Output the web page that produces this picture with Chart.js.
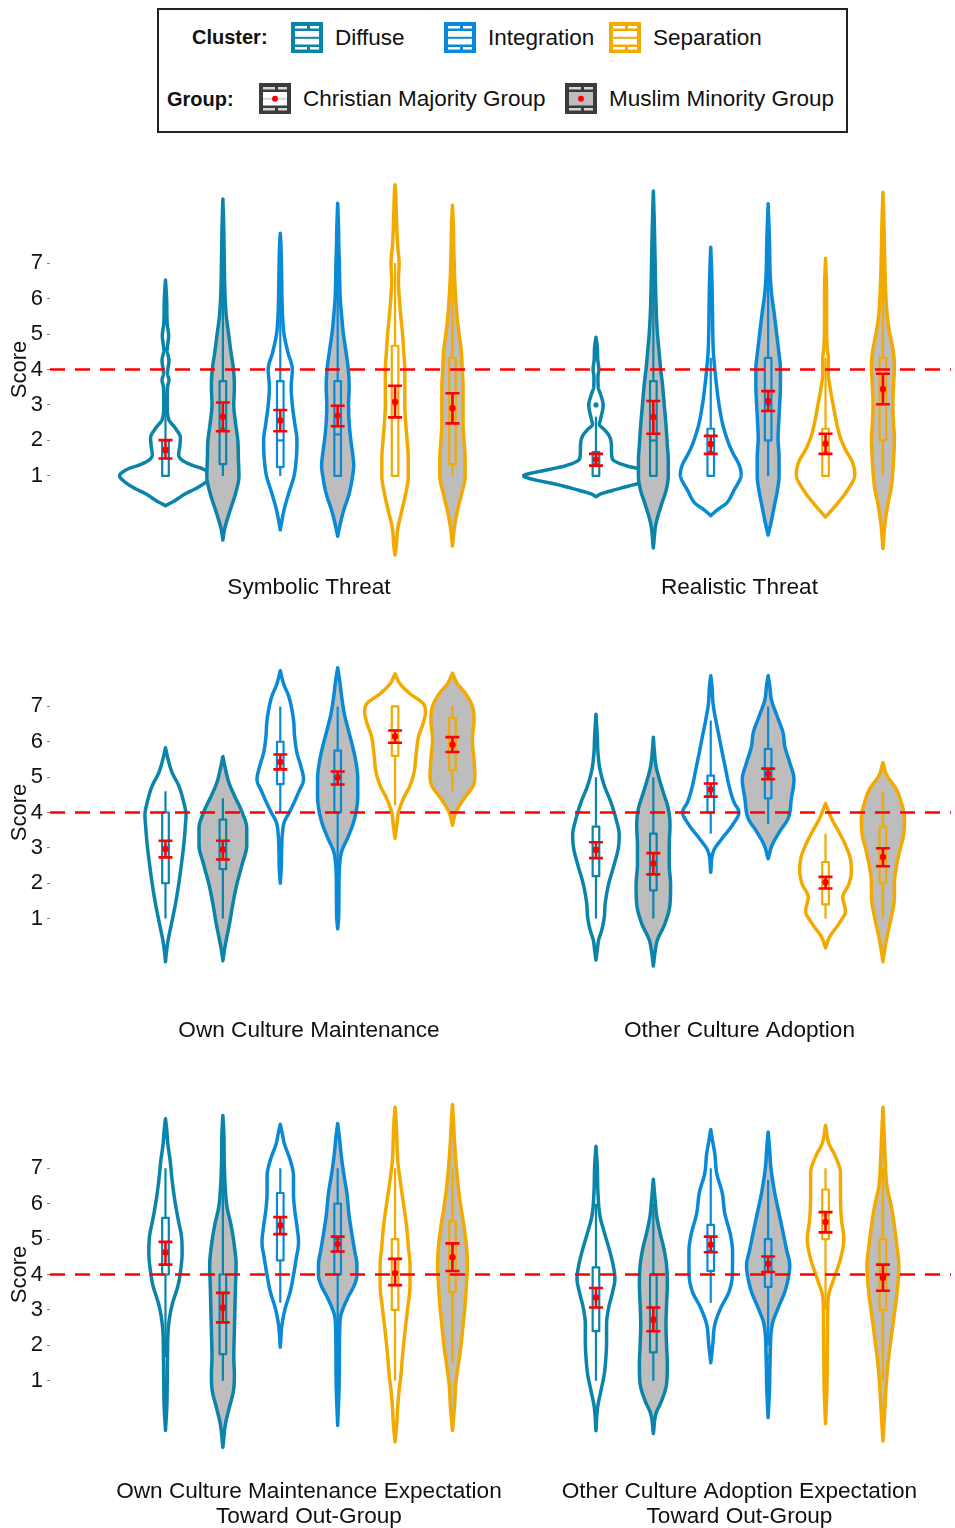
<!DOCTYPE html>
<html><head><meta charset="utf-8">
<script src="https://cdn.jsdelivr.net/npm/chart.js@4.4.1/dist/chart.umd.min.js"></script>
<style>
html,body{margin:0;padding:0;background:#fff;}
body{width:955px;height:1528px;position:relative;overflow:hidden;font-family:"Liberation Sans",Arial,sans-serif;color:#111;}
#legendBox{position:absolute;left:157px;top:8px;width:687px;height:121px;border:2px solid #222;}
.lt{position:absolute;font-size:22.5px;line-height:30px;white-space:nowrap;}
.lb{position:absolute;font-size:20px;font-weight:bold;line-height:30px;white-space:nowrap;}
.ic{position:absolute;}
canvas.row{position:absolute;left:0;}
</style></head>
<body>
<div id="legendBox"></div>
<div class="lb" style="left:192px;top:22px">Cluster:</div>
<canvas class="ic" id="icD" width="32" height="31" style="left:291px;top:22px"></canvas>
<div class="lt" style="left:335px;top:23px" id="ltD"></div>
<canvas class="ic" id="icI" width="32" height="31" style="left:444px;top:22px"></canvas>
<div class="lt" style="left:488px;top:23px" id="ltI"></div>
<canvas class="ic" id="icS" width="32" height="31" style="left:609px;top:22px"></canvas>
<div class="lt" style="left:653px;top:23px" id="ltS"></div>
<div class="lb" style="left:167px;top:84px">Group:</div>
<canvas class="ic" id="icC" width="32" height="31" style="left:259px;top:83px"></canvas>
<div class="lt" style="left:303px;top:84px" id="ltC"></div>
<canvas class="ic" id="icM" width="32" height="31" style="left:565px;top:83px"></canvas>
<div class="lt" style="left:609px;top:84px" id="ltM"></div>

<canvas class="row" id="row1" width="955" height="435" style="top:170px"></canvas>
<canvas class="row" id="row2" width="955" height="401" style="top:655px"></canvas>
<canvas class="row" id="row3" width="955" height="433" style="top:1095px"></canvas>

<script>
// ---------------- DATA ----------------
const clusterNames = ['Diffuse', 'Integration', 'Separation'];
const groupNames = ['Christian Majority Group', 'Muslim Minority Group'];
const scoreTicks = [1, 2, 3, 4, 5, 6, 7];
const midpointScore = 4;
const panelLabels = [
  ['Symbolic Threat', 'Realistic Threat'],
  ['Own Culture Maintenance', 'Other Culture Adoption'],
  [['Own Culture Maintenance Expectation', 'Toward Out-Group'], ['Other Culture Adoption Expectation', 'Toward Out-Group']]
];
// violin order in each panel: Diffuse-Christian, Diffuse-Muslim, Integration-Christian, Integration-Muslim, Separation-Christian, Separation-Muslim
// density profiles: [score, half-width (density, in category units)]
const symbolicDensity = [
  [[0.16,0],[0.3,0.16],[0.5,0.35],[0.67,0.56],[0.86,0.73],[1.0,0.8],[1.19,0.66],[1.33,0.42],[1.47,0.27],[1.6,0.23],[1.85,0.25],[2.07,0.26],[2.35,0.17],[2.58,0.06],[3.0,0.03],[3.5,0.035],[3.7,0.06],[3.9,0.035],[4.25,0.06],[4.55,0.03],[4.95,0.055],[5.3,0.03],[6.0,0.02],[6.52,0]],
  [[-0.81,0],[-0.5,0.03],[0,0.12],[0.5,0.22],[1,0.28],[1.5,0.27],[2,0.26],[2.5,0.22],[3,0.19],[3.5,0.2],[4,0.185],[4.5,0.14],[5,0.1],[5.5,0.06],[6,0.04],[6.5,0.03],[7,0.025],[7.5,0.02],[8,0.015],[8.81,0]],
  [[-0.52,0],[0,0.06],[0.5,0.145],[1,0.24],[1.5,0.28],[2,0.29],[2.5,0.25],[3,0.21],[3.5,0.19],[4,0.21],[4.5,0.13],[5,0.065],[5.5,0.04],[6,0.03],[6.5,0.025],[7,0.02],[7.5,0.012],[7.84,0]],
  [[-0.7,0],[-0.5,0.025],[0,0.1],[0.5,0.2],[1,0.26],[1.3,0.28],[1.5,0.27],[2,0.23],[2.5,0.2],[3,0.19],[3.5,0.2],[4,0.185],[4.5,0.145],[5,0.1],[5.5,0.07],[6,0.045],[6.5,0.035],[7,0.03],[7.5,0.02],[8,0.015],[8.69,0]],
  [[-1.23,0],[-1,0.02],[-0.5,0.045],[0,0.115],[0.5,0.185],[1,0.23],[1.5,0.23],[2,0.21],[2.5,0.185],[3,0.17],[3.5,0.17],[4,0.17],[4.5,0.15],[5,0.13],[5.5,0.1],[6,0.075],[6.5,0.058],[7,0.07],[7.5,0.045],[8,0.03],[8.5,0.02],[9,0.01],[9.21,0]],
  [[-0.98,0],[-0.5,0.03],[0,0.085],[0.5,0.16],[1,0.22],[1.5,0.22],[2,0.2],[2.5,0.185],[3,0.185],[3.5,0.185],[4,0.17],[4.5,0.155],[5,0.115],[5.5,0.08],[6,0.058],[6.5,0.04],[7,0.03],[7.5,0.022],[8,0.017],[8.63,0]]
];
const symbolicBox = [[1,1,1.67,2.0,3.33],[1,1.33,2.33,3.67,7],[1,1.25,2.0,3.67,7],[1,1,2.17,3.67,7],[1,1,3.0,4.67,7],[1,1.33,2.67,4.33,7]];
const symbolicMean = [[1.74,1.49,2.01],[2.67,2.26,3.07],[2.56,2.26,2.86],[2.70,2.40,2.98],[3.09,2.65,3.54],[2.91,2.48,3.33]];
const symbolicOutliers = [[],[],[],[],[],[]];

const realisticDensity = [
  [[0.41,0],[0.49,0.08],[0.6,0.31],[0.77,0.71],[0.91,1.12],[1.0,1.26],[1.16,0.88],[1.28,0.54],[1.5,0.28],[1.8,0.27],[2.1,0.24],[2.3,0.15],[2.45,0.06],[2.6,0.08],[3.0,0.125],[3.3,0.08],[3.5,0.04],[3.8,0.035],[4.0,0.05],[4.3,0.03],[4.6,0.025],[4.91,0]],
  [[-1.03,0],[-0.35,0.046],[0.21,0.145],[0.58,0.22],[1,0.26],[1.42,0.26],[1.88,0.243],[2.44,0.22],[3,0.19],[3.56,0.16],[4.02,0.127],[4.5,0.1],[5.05,0.07],[5.6,0.052],[6.26,0.04],[7.2,0.029],[8.1,0.017],[9.03,0]],
  [[-0.12,0],[0.05,0.12],[0.21,0.26],[0.58,0.4],[1.05,0.53],[1.33,0.49],[1.6,0.4],[1.88,0.32],[2.16,0.26],[2.44,0.21],[3,0.145],[3.56,0.1],[4.02,0.07],[4.5,0.046],[5.05,0.035],[5.8,0.029],[6.72,0.017],[7.45,0]],
  [[-0.67,0],[-0.35,0.046],[0.21,0.115],[0.58,0.16],[1,0.19],[1.51,0.19],[2.07,0.173],[2.53,0.185],[3,0.2],[3.56,0.214],[4.02,0.214],[4.5,0.185],[5.05,0.145],[5.6,0.104],[6.16,0.058],[6.72,0.035],[7.65,0.023],[8.67,0]],
  [[-0.16,0],[0.02,0.1],[0.21,0.2],[0.58,0.376],[1.05,0.51],[1.42,0.46],[1.7,0.36],[2.07,0.26],[2.44,0.2],[3,0.133],[3.47,0.08],[3.93,0.046],[4.3,0.05],[4.58,0.03],[5.33,0.018],[6.26,0.017],[7.14,0]],
  [[-1.05,0],[-0.35,0.035],[0.21,0.087],[0.67,0.145],[1.14,0.173],[1.6,0.19],[2.07,0.2],[2.44,0.185],[3,0.173],[3.56,0.185],[4.12,0.2],[4.58,0.173],[5.05,0.115],[5.6,0.07],[6.26,0.046],[7.19,0.029],[8.12,0.017],[9.0,0]]
];
const realisticBox = [[1,1,1.33,1.67,2.67],[1,1,2.0,3.67,7],[1,1,1.67,2.33,4.33],[1,2.0,3.0,4.33,7],[1,1,1.67,2.33,4.33],[1,2.0,3.33,4.33,7]];
const realisticMean = [[1.46,1.29,1.62],[2.66,2.19,3.11],[1.90,1.62,2.13],[3.11,2.83,3.39],[1.91,1.62,2.19],[3.45,3.02,3.88]];
const realisticOutliers = [[3.0],[],[],[],[],[]];

const ownMaintDensity = [
  [[-0.22,0],[0.1,0.02],[0.39,0.046],[0.85,0.104],[1.41,0.173],[1.97,0.23],[2.53,0.277],[3.08,0.318],[3.64,0.347],[3.92,0.358],[4.29,0.318],[4.76,0.23],[5.13,0.115],[5.5,0.046],[5.83,0]],
  [[-0.19,0],[0.1,0.025],[0.39,0.058],[0.85,0.115],[1.41,0.173],[1.97,0.243],[2.53,0.335],[3.08,0.416],[3.55,0.416],[4.01,0.335],[4.48,0.2],[4.85,0.104],[5.22,0.046],[5.58,0]],
  [[2.0,0],[2.43,0.017],[2.9,0.023],[3.36,0.035],[3.73,0.07],[4.01,0.16],[4.29,0.243],[4.57,0.318],[4.94,0.405],[5.3,0.36],[5.69,0.29],[6.15,0.25],[6.62,0.23],[7.27,0.15],[7.64,0.058],[8.01,0]],
  [[0.71,0],[1.04,0.017],[1.97,0.023],[2.53,0.035],[2.9,0.07],[3.27,0.17],[3.64,0.26],[4.01,0.32],[4.48,0.35],[4.94,0.35],[5.41,0.32],[5.87,0.26],[6.34,0.185],[6.8,0.115],[7.27,0.07],[7.73,0.035],[8.09,0]],
  [[3.27,0],[3.64,0.03],[4.01,0.06],[4.39,0.145],[4.76,0.26],[5.13,0.33],[5.69,0.37],[6.15,0.41],[6.53,0.49],[6.85,0.53],[7.08,0.49],[7.36,0.26],[7.64,0.087],[7.92,0]],
  [[3.64,0],[4.01,0.06],[4.39,0.2],[4.76,0.36],[5.04,0.39],[5.5,0.376],[6.06,0.347],[6.62,0.376],[7.0,0.347],[7.36,0.23],[7.64,0.087],[7.94,0]]
];
const ownMaintBox = [[1,2,3,4,4.6],[1,2.4,3,3.8,4.4],[4,4.8,5.4,6.0,7],[1,4.0,5.0,5.75,7],[4.2,5.6,6.33,7,7],[4.6,5.2,6.0,6.67,7]];
const ownMaintMean = [[2.97,2.73,3.20],[2.95,2.67,3.20],[5.43,5.22,5.64],[4.99,4.79,5.16],[6.15,5.97,6.32],[5.92,5.71,6.13]];
const ownMaintOutliers = [[],[],[],[],[],[]];

const otherAdoptDensity = [
  [[-0.17,0],[0.11,0.023],[0.39,0.046],[0.67,0.1],[1.04,0.145],[1.41,0.16],[1.97,0.22],[2.53,0.318],[3.0,0.39],[3.36,0.405],[3.83,0.347],[4.29,0.26],[4.76,0.145],[5.22,0.07],[5.69,0.035],[6.15,0.023],[6.78,0]],
  [[-0.34,0],[0.11,0.035],[0.39,0.07],[0.85,0.2],[1.41,0.29],[1.97,0.3],[2.53,0.277],[3.08,0.277],[3.64,0.29],[4.11,0.26],[4.57,0.173],[4.94,0.104],[5.32,0.046],[5.7,0.02],[6.13,0]],
  [[2.31,0],[2.9,0.046],[3.27,0.2],[3.64,0.376],[4.01,0.49],[4.29,0.405],[4.76,0.318],[5.22,0.26],[5.69,0.2],[6.15,0.145],[6.62,0.087],[7.08,0.04],[7.55,0.023],[7.87,0]],
  [[2.69,0],[3.08,0.07],[3.46,0.2],[3.83,0.347],[4.39,0.405],[4.94,0.45],[5.41,0.376],[5.87,0.29],[6.25,0.26],[6.71,0.16],[7.18,0.058],[7.55,0.03],[7.87,0]],
  [[0.17,0],[0.48,0.07],[0.85,0.23],[1.22,0.347],[1.6,0.3],[1.97,0.405],[2.34,0.45],[2.71,0.43],[3.08,0.347],[3.46,0.23],[3.83,0.104],[4.11,0.035],[4.25,0]],
  [[-0.22,0],[0.11,0.03],[0.48,0.07],[1.04,0.145],[1.6,0.2],[1.97,0.2],[2.43,0.23],[2.9,0.29],[3.36,0.36],[3.83,0.376],[4.29,0.318],[4.67,0.23],[5.04,0.07],[5.41,0]]
];
const otherAdoptBox = [[1,2.2,3.0,3.6,5.0],[1,1.8,2.6,3.4,5.0],[3.4,4.0,4.67,5.04,6.6],[3.67,4.4,5.0,5.8,7],[1,1.4,2.0,2.6,3.4],[1,2.0,2.67,3.6,4.6]];
const otherAdoptMean = [[2.94,2.71,3.16],[2.56,2.25,2.85],[4.65,4.45,4.82],[5.10,4.94,5.24],[2.03,1.85,2.18],[2.74,2.48,2.99]];
const otherAdoptOutliers = [[],[],[],[],[],[]];

const ownMaintExpDensity = [
  [[-0.4,0],[0.26,0.023],[0.91,0.03],[1.65,0.035],[2.4,0.046],[2.77,0.07],[3.14,0.115],[3.7,0.22],[4.07,0.26],[4.63,0.29],[5.09,0.277],[5.56,0.22],[6.12,0.16],[6.67,0.115],[7.23,0.08],[7.7,0.04],[8.07,0.023],[8.4,0]],
  [[-0.88,0],[-0.21,0.046],[0.26,0.115],[0.72,0.185],[1.19,0.2],[1.65,0.19],[2.4,0.2],[3.05,0.21],[3.7,0.22],[4.26,0.23],[4.81,0.2],[5.37,0.145],[5.93,0.07],[6.49,0.04],[7.23,0.023],[7.98,0.017],[8.49,0]],
  [[1.95,0],[2.58,0.03],[3.05,0.087],[3.51,0.173],[3.98,0.23],[4.44,0.277],[4.91,0.318],[5.37,0.29],[5.84,0.25],[6.3,0.23],[6.77,0.23],[7.23,0.173],[7.7,0.07],[7.98,0.035],[8.24,0]],
  [[-0.26,0],[0.72,0.023],[1.65,0.03],[2.4,0.035],[2.86,0.058],[3.33,0.173],[3.7,0.29],[3.98,0.335],[4.26,0.335],[4.72,0.29],[5.19,0.243],[5.65,0.2],[6.3,0.16],[6.86,0.104],[7.42,0.058],[7.88,0.03],[8.26,0]],
  [[-0.72,0],[-0.21,0.03],[0.26,0.046],[0.72,0.07],[1.19,0.104],[1.65,0.127],[2.4,0.173],[3.05,0.22],[3.7,0.26],[4.26,0.26],[4.81,0.23],[5.37,0.2],[6.02,0.145],[6.67,0.087],[7.23,0.046],[7.88,0.03],[8.35,0.017],[8.72,0]],
  [[-0.4,0],[0.26,0.035],[0.91,0.058],[1.47,0.104],[2.02,0.15],[2.58,0.185],[3.14,0.22],[3.7,0.243],[4.26,0.26],[4.81,0.243],[5.37,0.2],[5.93,0.145],[6.49,0.1],[7.23,0.058],[7.79,0.035],[8.35,0.017],[8.8,0]]
];
const ownMaintExpBox = [[1.67,4.0,4.67,5.6,7],[1,1.75,3.0,4.0,7],[3.2,4.4,5.33,6.3,7],[1,4.0,5.0,6.0,7],[1,3.0,4.0,5.0,7],[1.5,3.5,4.5,5.5,7]];
const ownMaintExpMean = [[4.62,4.28,4.92],[3.07,2.65,3.48],[5.39,5.14,5.62],[4.86,4.65,5.07],[4.04,3.70,4.44],[4.49,4.10,4.88]];
const ownMaintExpOutliers = [[1.0],[],[],[],[],[]];

const otherAdoptExpDensity = [
  [[-0.41,0],[0.26,0.03],[0.72,0.087],[1.19,0.145],[1.65,0.173],[2.12,0.185],[2.58,0.185],[3.05,0.22],[3.51,0.29],[3.88,0.33],[4.26,0.3],[4.72,0.23],[5.19,0.145],[5.65,0.07],[6.3,0.035],[7.05,0.023],[7.62,0]],
  [[-0.49,0],[0.07,0.046],[0.44,0.145],[0.91,0.23],[1.47,0.243],[2.02,0.23],[2.58,0.22],[3.14,0.23],[3.7,0.243],[4.26,0.23],[4.72,0.185],[5.19,0.115],[5.65,0.058],[6.12,0.03],[6.69,0]],
  [[1.51,0],[2.02,0.035],[2.58,0.07],[3.05,0.173],[3.51,0.318],[3.98,0.376],[4.63,0.38],[5.09,0.347],[5.74,0.243],[6.3,0.2],[6.86,0.104],[7.42,0.07],[7.79,0.03],[8.09,0]],
  [[-0.04,0],[0.72,0.023],[1.65,0.035],[2.58,0.07],[3.05,0.173],[3.51,0.29],[3.98,0.36],[4.26,0.376],[4.72,0.318],[5.19,0.26],[5.65,0.2],[6.3,0.115],[7.05,0.046],[7.6,0.023],[8.02,0]],
  [[-0.21,0],[0.72,0.023],[1.65,0.03],[2.58,0.035],[3.33,0.046],[3.88,0.145],[4.44,0.26],[5.0,0.318],[5.56,0.277],[6.3,0.26],[6.86,0.26],[7.33,0.173],[7.7,0.058],[8.21,0]],
  [[-0.7,0],[0.26,0.035],[0.91,0.058],[1.47,0.087],[2.02,0.127],[2.58,0.173],[3.14,0.22],[3.7,0.26],[4.26,0.277],[4.81,0.243],[5.37,0.2],[5.93,0.145],[6.49,0.07],[7.23,0.04],[7.88,0.023],[8.72,0]]
];
const otherAdoptExpBox = [[1,2.4,3.33,4.2,6.0],[1,1.8,2.67,4.0,6.0],[3.2,4.1,4.67,5.4,7],[2.0,3.65,4.33,5.0,6.67],[3.0,5.0,5.67,6.4,7],[1,3.0,4.0,5.0,7]];
const otherAdoptExpMean = [[3.35,3.07,3.62],[2.73,2.40,3.07],[4.84,4.63,5.07],[4.30,4.07,4.51],[5.48,5.19,5.76],[3.91,3.54,4.28]];
const otherAdoptExpOutliers = [[],[],[],[1.33,1.67],[],[]];

// ---------------- STYLE ----------------
const clusterColors = ['#0b84aa', '#0a8ad6', '#f2aa00'];
const groupFills = ['#ffffff', '#bdbdbd'];
const redColor = '#ff0000';
const FONT = '"Liberation Sans", Arial, sans-serif';
const X_MIN = -1.012, X_MAX = 14.686;

// legend text
document.getElementById('ltD').textContent = clusterNames[0];
document.getElementById('ltI').textContent = clusterNames[1];
document.getElementById('ltS').textContent = clusterNames[2];
document.getElementById('ltC').textContent = groupNames[0];
document.getElementById('ltM').textContent = groupNames[1];

function drawIcon(id, bg, fg, boxFill, midColor, dot) {
  const c = document.getElementById(id).getContext('2d');
  c.fillStyle = bg; c.fillRect(0, 0, 32, 31);
  c.fillStyle = fg;
  c.fillRect(4, 4, 12, 2.5); c.fillRect(19, 4, 9, 2.5);
  c.fillRect(4, 25, 12, 2.5); c.fillRect(19, 25, 9, 2.5);
  c.fillStyle = boxFill; c.fillRect(4, 9, 24, 13.5);
  c.strokeStyle = midColor; c.lineWidth = 2;
  c.beginPath(); c.moveTo(4, 15.8); c.lineTo(28, 15.8); c.stroke();
  if (dot) { c.fillStyle = redColor; c.beginPath(); c.arc(16, 15.8, 3, 0, Math.PI * 2); c.fill(); }
}
drawIcon('icD', clusterColors[0], '#fff', '#fff', clusterColors[0], false);
drawIcon('icI', clusterColors[1], '#fff', '#fff', clusterColors[1], false);
drawIcon('icS', clusterColors[2], '#fff', '#fff', clusterColors[2], false);
drawIcon('icC', '#3b3b3b', '#d6d6d6', '#ffffff', '#d6d6d6', true);
drawIcon('icM', '#3b3b3b', '#d6d6d6', '#bdbdbd', '#bdbdbd', true);

// monotone cubic interpolation (Fritsch-Carlson)
function monotone(xs, ys) {
  const n = xs.length, d = [], m = new Array(n), h = [];
  for (let i = 0; i < n - 1; i++) { h[i] = xs[i + 1] - xs[i]; d[i] = (ys[i + 1] - ys[i]) / h[i]; }
  m[0] = d[0]; m[n - 1] = d[n - 2];
  for (let i = 1; i < n - 1; i++) m[i] = (d[i - 1] * d[i] <= 0) ? 0 : (d[i - 1] + d[i]) / 2;
  for (let i = 0; i < n - 1; i++) {
    if (d[i] === 0) { m[i] = 0; m[i + 1] = 0; continue; }
    const a = m[i] / d[i], b = m[i + 1] / d[i], s = a * a + b * b;
    if (s > 9) { const t = 3 / Math.sqrt(s); m[i] = t * a * d[i]; m[i + 1] = t * b * d[i]; }
  }
  return function (x) {
    let i = 0;
    while (i < n - 2 && x > xs[i + 1]) i++;
    const t = (x - xs[i]) / h[i], t2 = t * t, t3 = t2 * t;
    return (2 * t3 - 3 * t2 + 1) * ys[i] + (t3 - 2 * t2 + t) * h[i] * m[i] + (-2 * t3 + 3 * t2) * ys[i + 1] + (t3 - t2) * h[i] * m[i + 1];
  };
}

function slotValue(panel, i) { return panel === 0 ? i + 1 : i + 8.5; }

function makeViolinPlugin(panels) {
  return {
    id: 'violins',
    beforeDatasetsDraw(chart) {
      const ctx = chart.ctx, xs = chart.scales.x, ys = chart.scales.y;
      ctx.save();
      // violins
      panels.forEach((pan, p) => pan.density.forEach((prof, i) => {
        const c = slotValue(p, i), col = clusterColors[Math.floor(i / 2)], fill = groupFills[i % 2];
        const S = prof.map(q => q[0]), W = prof.map(q => q[1]);
        const f = monotone(S, W);
        const lo = S[0], hi = S[S.length - 1], n = Math.max(80, Math.round((hi - lo) / 0.015));
        const pts = [];
        for (let k = 0; k <= n; k++) { const s = lo + (hi - lo) * k / n; pts.push([s, Math.max(0, f(s))]); }
        ctx.beginPath();
        pts.forEach(([s, w], k) => { const X = xs.getPixelForValue(c + w), Y = ys.getPixelForValue(s); k ? ctx.lineTo(X, Y) : ctx.moveTo(X, Y); });
        for (let k = pts.length - 1; k >= 0; k--) { const [s, w] = pts[k]; ctx.lineTo(xs.getPixelForValue(c - w), ys.getPixelForValue(s)); }
        ctx.closePath();
        ctx.fillStyle = fill; ctx.fill();
        ctx.lineWidth = 3.5; ctx.lineJoin = 'round'; ctx.strokeStyle = col; ctx.stroke();
      }));
      // boxplots
      panels.forEach((pan, p) => pan.box.forEach((b, i) => {
        const c = slotValue(p, i), col = clusterColors[Math.floor(i / 2)], fill = groupFills[i % 2];
        const X = xs.getPixelForValue(c), bw = 3.3;
        const [wl, q1, md, q3, wh] = b.map(v => ys.getPixelForValue(v));
        ctx.strokeStyle = col; ctx.lineWidth = 2.2;
        ctx.beginPath(); ctx.moveTo(X, q3); ctx.lineTo(X, wh); ctx.moveTo(X, q1); ctx.lineTo(X, wl); ctx.stroke();
        ctx.fillStyle = fill; ctx.fillRect(X - bw, q3, 2 * bw, q1 - q3);
        ctx.strokeRect(X - bw, q3, 2 * bw, q1 - q3);
        ctx.beginPath(); ctx.moveTo(X - bw, md); ctx.lineTo(X + bw, md); ctx.stroke();
        ctx.fillStyle = col;
        (pan.outliers[i] || []).forEach(o => { ctx.beginPath(); ctx.arc(X, ys.getPixelForValue(o), 2.6, 0, Math.PI * 2); ctx.fill(); });
      }));
      // error bars around the means
      panels.forEach((pan, p) => pan.mean.forEach((m, i) => {
        const X = xs.getPixelForValue(slotValue(p, i)), lo = ys.getPixelForValue(m[1]), hi = ys.getPixelForValue(m[2]), cw = 7;
        ctx.strokeStyle = redColor; ctx.lineWidth = 2.6;
        ctx.beginPath();
        ctx.moveTo(X, lo); ctx.lineTo(X, hi);
        ctx.moveTo(X - cw, lo); ctx.lineTo(X + cw, lo);
        ctx.moveTo(X - cw, hi); ctx.lineTo(X + cw, hi);
        ctx.stroke();
      }));
      ctx.restore();
    }
  };
}

const rows = [
  { id: 'row1', areaH: 395, axisH: 40, yMin: -1.512, yMax: 9.512, pad: 10, labels: panelLabels[0],
    panels: [{ density: symbolicDensity, box: symbolicBox, mean: symbolicMean, outliers: symbolicOutliers },
             { density: realisticDensity, box: realisticBox, mean: realisticMean, outliers: realisticOutliers }] },
  { id: 'row2', areaH: 311, axisH: 90, yMin: -0.34, yMax: 8.34, pad: 52, labels: panelLabels[1],
    panels: [{ density: ownMaintDensity, box: ownMaintBox, mean: ownMaintMean, outliers: ownMaintOutliers },
             { density: otherAdoptDensity, box: otherAdoptBox, mean: otherAdoptMean, outliers: otherAdoptOutliers }] },
  { id: 'row3', areaH: 355, axisH: 78, yMin: -0.954, yMax: 8.954, pad: 29, labels: panelLabels[2],
    panels: [{ density: ownMaintExpDensity, box: ownMaintExpBox, mean: ownMaintExpMean, outliers: ownMaintExpOutliers },
             { density: otherAdoptExpDensity, box: otherAdoptExpBox, mean: otherAdoptExpMean, outliers: otherAdoptExpOutliers }] }
];

rows.forEach(r => {
  const meanPoints = [];
  r.panels.forEach((pan, p) => pan.mean.forEach((m, i) => meanPoints.push({ x: slotValue(p, i), y: m[0] })));
  new Chart(document.getElementById(r.id), {
    type: 'line',
    data: {
      datasets: [
        { type: 'line', data: [{ x: X_MIN, y: midpointScore }, { x: X_MAX, y: midpointScore }], borderColor: redColor, borderWidth: 2.5, borderDash: [15, 10], pointRadius: 0, fill: false, order: 2 },
        { type: 'scatter', data: meanPoints, pointRadius: 3.2, pointBackgroundColor: redColor, pointBorderWidth: 0, order: 1 }
      ]
    },
    options: {
      responsive: false, animation: false, devicePixelRatio: 1,
      layout: { padding: 0 },
      plugins: { legend: { display: false }, tooltip: { enabled: false } },
      scales: {
        x: {
          type: 'linear', min: X_MIN, max: X_MAX,
          afterBuildTicks: s => { s.ticks = [{ value: 3.5 }, { value: 11 }]; },
          ticks: { autoSkip: false, maxRotation: 0, padding: r.pad, color: '#111', font: { family: FONT, size: 22.6, lineHeight: 1.12 },
                   callback: v => (v < 7 ? r.labels[0] : r.labels[1]) },
          grid: { display: false, drawTicks: false }, border: { display: false },
          afterFit: s => { s.height = r.axisH; s.paddingLeft = 0; s.paddingRight = 0; }
        },
        y: {
          type: 'linear', min: r.yMin, max: r.yMax,
          afterBuildTicks: s => { s.ticks = scoreTicks.map(v => ({ value: v })); },
          ticks: { padding: 4, color: '#111', font: { family: FONT, size: 22 }, callback: v => String(v) },
          grid: { drawOnChartArea: false, tickLength: 3, color: '#888', lineWidth: 1 }, border: { display: false },
          title: { display: true, text: 'Score', color: '#111', font: { family: FONT, size: 22 }, padding: { top: 7, bottom: 0 } },
          afterFit: s => { s.width = 50; s.paddingTop = 0; s.paddingBottom = 0; }
        }
      }
    },
    plugins: [makeViolinPlugin(r.panels)]
  });
});
</script>
</body></html>
